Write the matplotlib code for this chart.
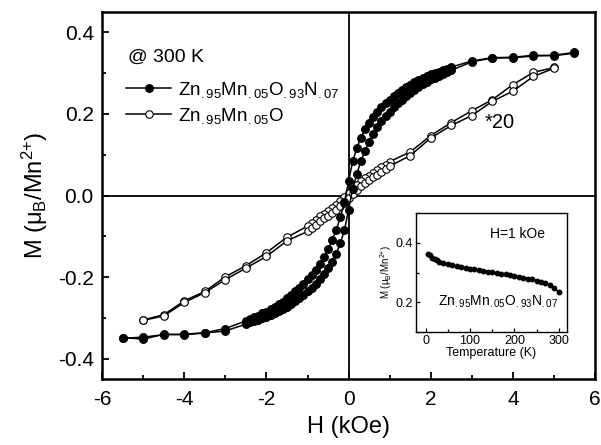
import numpy as np
import matplotlib
matplotlib.use("Agg")
import matplotlib.pyplot as plt
from matplotlib.ticker import MultipleLocator

plt.rcParams['font.family'] = ['Liberation Sans', 'DejaVu Sans']
plt.rcParams['mathtext.fontset'] = 'custom'
plt.rcParams['mathtext.rm'] = 'Liberation Sans'
plt.rcParams['mathtext.it'] = 'Liberation Sans:italic'

# Zn.95Mn.05O.93N.07 loop, descending branch (H from +5.5 to -5.5)
h_down_N = [5.5, 5.0, 4.5, 4.0, 3.5, 3.0,
            2.5, 2.4, 2.3, 2.2, 2.1, 2.0, 1.9, 1.8, 1.7, 1.6, 1.5, 1.4, 1.3, 1.2, 1.1,
            1.0, 0.9, 0.8, 0.7, 0.6, 0.5, 0.4, 0.3, 0.2, 0.1, 0.0,
            -0.1, -0.2, -0.3, -0.4, -0.5, -0.6, -0.7, -0.8, -0.9, -1.0,
            -1.1, -1.2, -1.3, -1.4, -1.5, -1.6, -1.7, -1.8, -1.9, -2.0,
            -2.1, -2.2, -2.3, -2.4, -2.5,
            -3.0, -3.5, -4.0, -4.5, -5.0, -5.5]
m_down_N = [0.349, 0.343, 0.344, 0.339, 0.338, 0.330,
            0.315, 0.311, 0.308, 0.304, 0.301, 0.297, 0.293, 0.289, 0.283, 0.278, 0.272, 0.266, 0.259, 0.252, 0.244,
            0.235, 0.226, 0.216, 0.205, 0.193, 0.178, 0.162, 0.142, 0.117, 0.084, 0.035,
            -0.016, -0.053, -0.084, -0.110, -0.132, -0.151, -0.167, -0.182, -0.194, -0.205,
            -0.216, -0.226, -0.235, -0.244, -0.252, -0.260, -0.267, -0.273, -0.279, -0.285,
            -0.289, -0.294, -0.298, -0.303, -0.307,
            -0.326, -0.336, -0.340, -0.341, -0.347, -0.350]

# Zn.95Mn.05O.93N.07 loop, ascending branch (H from -5.5 to +5.5)
h_up_N = [-5.5, -5.0, -4.5, -4.0, -3.5, -3.0,
          -2.5, -2.4, -2.3, -2.2, -2.1, -2.0, -1.9, -1.8, -1.7, -1.6, -1.5, -1.4, -1.3, -1.2, -1.1,
          -1.0, -0.9, -0.8, -0.7, -0.6, -0.5, -0.4, -0.3, -0.2, -0.1, 0.0,
          0.1, 0.2, 0.3, 0.4, 0.5, 0.6, 0.7, 0.8, 0.9, 1.0,
          1.1, 1.2, 1.3, 1.4, 1.5, 1.6, 1.7, 1.8, 1.9, 2.0,
          2.1, 2.2, 2.3, 2.4, 2.5,
          3.0, 3.5, 4.0, 4.5, 5.0, 5.5]
m_up_N = [-0.348, -0.352, -0.340, -0.341, -0.337, -0.332,
          -0.315, -0.311, -0.308, -0.304, -0.301, -0.297, -0.293, -0.289, -0.283, -0.278, -0.272, -0.266, -0.259, -0.252, -0.244,
          -0.235, -0.226, -0.216, -0.205, -0.193, -0.178, -0.162, -0.142, -0.117, -0.084, -0.035,
          0.016, 0.053, 0.084, 0.110, 0.132, 0.151, 0.167, 0.182, 0.194, 0.205,
          0.216, 0.226, 0.235, 0.244, 0.252, 0.260, 0.267, 0.273, 0.279, 0.285,
          0.289, 0.294, 0.298, 0.303, 0.307,
          0.328, 0.337, 0.338, 0.342, 0.344, 0.351]

# Zn.95Mn.05O loop (x20), descending and ascending branches
h_down_O = [5.0, 4.5, 4.0, 3.5, 3.0, 2.5, 2.0, 1.5, 1.0, 0.9, 0.8, 0.7, 0.6, 0.5, 0.4, 0.3, 0.2, 0.1, 0.0,
            -0.1, -0.2, -0.3, -0.4, -0.5, -0.6, -0.7, -0.8, -0.9, -1.0, -1.5, -2.0, -2.5, -3.0, -3.5, -4.0, -4.5, -5.0]
m_down_O = [0.314, 0.302, 0.272, 0.235, 0.208, 0.179, 0.147, 0.107, 0.083, 0.076, 0.069, 0.062, 0.055, 0.049, 0.042, 0.035, 0.026, 0.017, 0.007,
            -0.003, -0.014, -0.023, -0.031, -0.038, -0.045, -0.051, -0.059, -0.066, -0.075, -0.102, -0.140, -0.172, -0.199, -0.235, -0.258, -0.292, -0.305]
h_up_O = [-5.0, -4.5, -4.0, -3.5, -3.0, -2.5, -2.0, -1.5, -1.0, -0.9, -0.8, -0.7, -0.6, -0.5, -0.4, -0.3, -0.2, -0.1, 0.0,
          0.1, 0.2, 0.3, 0.4, 0.5, 0.6, 0.7, 0.8, 0.9, 1.0, 1.5, 2.0, 2.5, 3.0, 3.5, 4.0, 4.5, 5.0]
m_up_O = [-0.306, -0.295, -0.262, -0.238, -0.206, -0.178, -0.149, -0.111, -0.088, -0.080, -0.071, -0.063, -0.056, -0.049, -0.042, -0.035, -0.026, -0.017, -0.007,
          0.004, 0.014, 0.023, 0.031, 0.038, 0.045, 0.051, 0.058, 0.065, 0.072, 0.098, 0.141, 0.172, 0.196, 0.231, 0.256, 0.292, 0.312]

# inset: M(T) at H = 1 kOe
temp_K = [5, 10, 15, 20, 25, 30, 40, 50, 60, 70, 80, 90, 100, 110, 120, 130, 140, 150, 160,
          170, 180, 190, 200, 210, 220, 230, 240, 250, 260, 270, 280, 290, 300]
m_temp = [0.362, 0.358, 0.350, 0.345, 0.341, 0.337, 0.332, 0.328, 0.325, 0.322, 0.319, 0.316, 0.313,
          0.311, 0.308, 0.306, 0.303, 0.301, 0.299, 0.296, 0.294, 0.291, 0.289, 0.286, 0.283, 0.280,
          0.277, 0.273, 0.269, 0.264, 0.258, 0.248, 0.234]

lbl_N = r'Zn$_{.95}$Mn$_{.05}$O$_{.93}$N$_{.07}$'
lbl_O = r'Zn$_{.95}$Mn$_{.05}$O'
lbl_M = r'M (μ$_{\mathrm{B}}$/Mn$^{2{+}}$)'

fig = plt.figure(figsize=(6.01, 4.45), dpi=100)
ax = fig.add_axes([0.170, 0.148, 0.820, 0.825])

ax.axhline(0, color='black', lw=1.3, zorder=1)
ax.axvline(0, color='black', lw=1.3, zorder=1)

ms = 5.4
ax.plot(h_down_O, m_down_O, '-o', color='black', lw=1.1, ms=ms, mfc='white', mec='black', mew=0.8, zorder=2)
ax.plot(h_up_O, m_up_O, '-o', color='black', lw=1.1, ms=ms, mfc='white', mec='black', mew=0.8, zorder=2)
ax.plot(h_down_N, m_down_N, '-o', color='black', lw=1.1, ms=ms, mfc='black', mec='black', zorder=3)
ax.plot(h_up_N, m_up_N, '-o', color='black', lw=1.1, ms=ms, mfc='black', mec='black', zorder=3)

# legend handles
hN, = ax.plot([], [], '-o', color='black', lw=1.1, ms=ms, mfc='black')
hO, = ax.plot([], [], '-o', color='black', lw=1.1, ms=ms, mfc='white', mew=0.8)
ax.legend([hN, hO], [lbl_N, lbl_O], loc='upper left', bbox_to_anchor=(0.049, 0.815),
          frameon=False, fontsize=13.5, handlelength=2.4, handletextpad=0.35,
          labelspacing=0.3, borderpad=0, borderaxespad=0, numpoints=1)

ax.text(-5.38, 0.338, '@ 300 K', fontsize=14, va='center', ha='left')
ax.text(3.32, 0.180, '*20', fontsize=14.5, va='center', ha='left')

ax.set_xlim(-6, 6)
ax.set_ylim(-0.45, 0.45)
ax.set_xticks([-6, -4, -2, 0, 2, 4, 6])
ax.set_xticklabels(['-6', '-4', '-2', '0', '2', '4', '6'])
ax.set_yticks([-0.4, -0.2, 0.0, 0.2, 0.4])
ax.set_yticklabels(['-0.4', '-0.2', '0.0', '0.2', '0.4'])
ax.xaxis.set_minor_locator(MultipleLocator(1))
ax.yaxis.set_minor_locator(MultipleLocator(0.1))
ax.tick_params(which='both', direction='in', labelsize=15, width=1.3)
ax.tick_params(which='major', length=5, pad=6)
ax.tick_params(axis='x', which='major', pad=8)
ax.tick_params(which='minor', length=3)
for s in ax.spines.values():
    s.set_linewidth(1.8)
ax.set_xlabel('H (kOe)', fontsize=17, labelpad=5)
ax.set_ylabel(lbl_M, fontsize=17, labelpad=6)

# inset
ins = fig.add_axes([0.692, 0.254, 0.251, 0.267])
ins.plot(temp_K, m_temp, '-o', color='black', lw=1.0, ms=3.2)
ins.set_xlim(-22, 318)
ins.set_ylim(0.1, 0.5)
ins.xaxis.set_major_locator(MultipleLocator(100))
ins.xaxis.set_minor_locator(MultipleLocator(50))
ins.yaxis.set_major_locator(MultipleLocator(0.2))
ins.yaxis.set_minor_locator(MultipleLocator(0.1))
ins.tick_params(which='both', direction='in', labelsize=9, width=0.9, pad=2)
ins.tick_params(which='major', length=3)
ins.tick_params(which='minor', length=2)
for s in ins.spines.values():
    s.set_linewidth(1.0)
ins.set_xlabel('Temperature (K)', fontsize=9, labelpad=0)
ins.set_ylabel(lbl_M, fontsize=7, labelpad=1)
ins.text(145, 0.43, 'H=1 kOe', fontsize=10, va='center', ha='left')
ins.text(27, 0.2, lbl_N, fontsize=10, va='center', ha='left')

fig.savefig('out.png', dpi=100)
